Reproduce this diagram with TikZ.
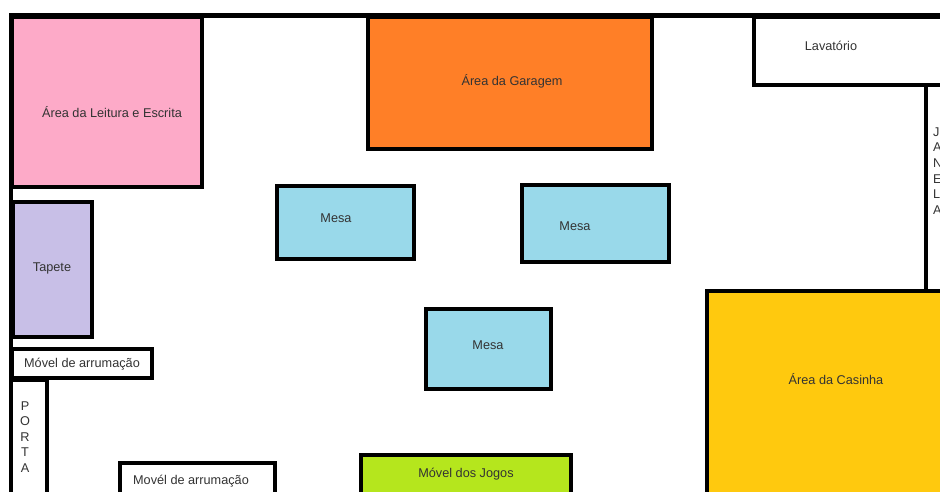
\documentclass[tikz,border=0pt]{standalone}
\usepackage{fontspec}
\setmainfont{Liberation Sans}
\usetikzlibrary{positioning}
\definecolor{leitura}{RGB}{253,170,200}
\definecolor{garagem}{RGB}{255,127,39}
\definecolor{tapete}{RGB}{200,191,231}
\definecolor{mesa}{RGB}{153,217,234}
\definecolor{casinha}{RGB}{255,201,14}
\definecolor{jogos}{RGB}{181,230,29}
\definecolor{texto}{RGB}{51,51,51}
\tikzset{
x=1pt, y=-1pt,
room/.style={draw=black, line width=4pt},
wall/.style={draw=black, line width=5pt},
label/.style={text=texto, font=\fontsize{12.7}{15.6}\selectfont, inner sep=0pt},
}

\begin{document}
\begin{tikzpicture}
    \useasboundingbox (0,0) rectangle (940,491);

    % zonas
    \draw[room, fill=leitura] (12,17) rectangle (202,187);
    \draw[room, fill=garagem] (368,17) rectangle (652,149);
    \draw[room, fill=white] (754,17) rectangle (945,85);
    \draw[room, fill=white] (926,85) rectangle (945,291);
    \draw[room, fill=tapete] (13,202) rectangle (92,337);
    \draw[room, fill=white] (12,349) rectangle (152,378);
    \draw[room, fill=white] (11,380) rectangle (47,500);
    \draw[room, fill=white] (120,463) rectangle (275,500);
    \draw[room, fill=jogos] (361,455) rectangle (571,500);
    \draw[room, fill=casinha] (707,291) rectangle (945,500);

    % mesas
    \draw[room, fill=mesa] (277,186) rectangle (414,259);
    \draw[room, fill=mesa] (522,185) rectangle (669,262);
    \draw[room, fill=mesa] (426,309) rectangle (551,389);

    % paredes
    \draw[wall] (9,15.5) -- (945,15.5);
    \draw[line width=4pt] (11,13) -- (11,500);

    \node[label] (leituraText) at (112,112) {Área da Leitura e Escrita};
    \node[label] (garagemText) at (512,81) {Área da Garagem};
    \node[label] (lavatorioText) at (831,46) {Lavatório};
    \node[label, anchor=west, align=left] (janelaText) at (933,171)
    {
        J\\A\\N\\E\\L\\A
    };
    \node[label] (tapeteText) at (52,268) {Tapete};
    \node[label] (movelText) at (82,364) {Móvel de arrumação};
    \node[label, align=center] (portaText) at (25,437)
    {
        P\\O\\R\\T\\A
    };
    \node[label] (movelBaixoText) at (191,481) {Movél de arrumação};
    \node[label] (jogosText) at (466,474) {Móvel dos Jogos};
    \node[label] (casinhaText) at (836,379) {Área da Casinha};
    \node[label] (mesaA) at (336,218) {Mesa};
    \node[label] (mesaB) at (575,226) {Mesa};
    \node[label] (mesaC) at (488,345) {Mesa};

\end{tikzpicture}
\end{document}
